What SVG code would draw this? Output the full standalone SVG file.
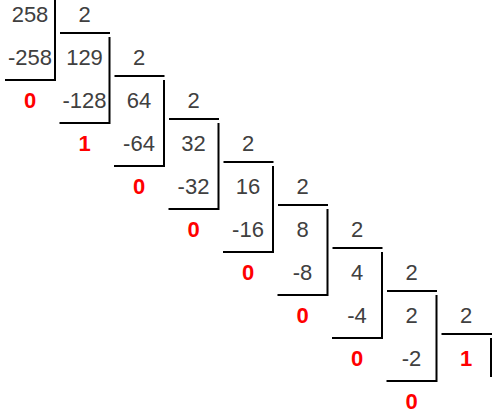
<svg xmlns="http://www.w3.org/2000/svg" width="494" height="416" viewBox="0 0 494 416">
<style>
.t{font-family:"Liberation Sans",Arial,sans-serif;font-size:22px;fill:#404040;text-anchor:middle}
.r{font-family:"Liberation Sans",Arial,sans-serif;font-size:22px;font-weight:bold;fill:#ff0000;text-anchor:middle}
.l{stroke:#000;stroke-width:2;fill:none}
</style>
<rect width="494" height="416" fill="#fff"/>
<g id="lines">
<path class="l" d="M55,0V80M5,80H56M60,33H110"/>
<path class="l" d="M109.5,37V123M59.5,123H110.5M114.5,76H164.5"/>
<path class="l" d="M164,80V166M114,166H165M169,119H219"/>
<path class="l" d="M218.5,123V209M168.5,209H219.5M223.5,162H273.5"/>
<path class="l" d="M273,166V252M223,252H274M278,205H328"/>
<path class="l" d="M327.5,209V295M277.5,295H328.5M332.5,248H382.5"/>
<path class="l" d="M382,252V338M332,338H383M387,291H437"/>
<path class="l" d="M436.5,295V381M386.5,381H437.5M441.5,334H492"/>
<path class="l" d="M491,338V377"/>
</g>
<g id="step0"><text class="t" x="30" y="22">258</text><text class="t" x="84.5" y="22">2</text><text class="t" x="30" y="65">-258</text><text class="r" x="30" y="108">0</text></g>
<g id="step1"><text class="t" x="84.5" y="65">129</text><text class="t" x="139" y="65">2</text><text class="t" x="84.5" y="108">-128</text><text class="r" x="84.5" y="151">1</text></g>
<g id="step2"><text class="t" x="139" y="108">64</text><text class="t" x="193.5" y="108">2</text><text class="t" x="139" y="151">-64</text><text class="r" x="139" y="194">0</text></g>
<g id="step3"><text class="t" x="193.5" y="151">32</text><text class="t" x="248" y="151">2</text><text class="t" x="193.5" y="194">-32</text><text class="r" x="193.5" y="237">0</text></g>
<g id="step4"><text class="t" x="248" y="194">16</text><text class="t" x="302.5" y="194">2</text><text class="t" x="248" y="237">-16</text><text class="r" x="248" y="280">0</text></g>
<g id="step5"><text class="t" x="302.5" y="237">8</text><text class="t" x="357" y="237">2</text><text class="t" x="302.5" y="280">-8</text><text class="r" x="302.5" y="323">0</text></g>
<g id="step6"><text class="t" x="357" y="280">4</text><text class="t" x="411.5" y="280">2</text><text class="t" x="357" y="323">-4</text><text class="r" x="357" y="366">0</text></g>
<g id="step7"><text class="t" x="411.5" y="323">2</text><text class="t" x="466" y="323">2</text><text class="t" x="411.5" y="366">-2</text><text class="r" x="411.5" y="409">0</text><text class="r" x="466" y="366">1</text></g>
</svg>
